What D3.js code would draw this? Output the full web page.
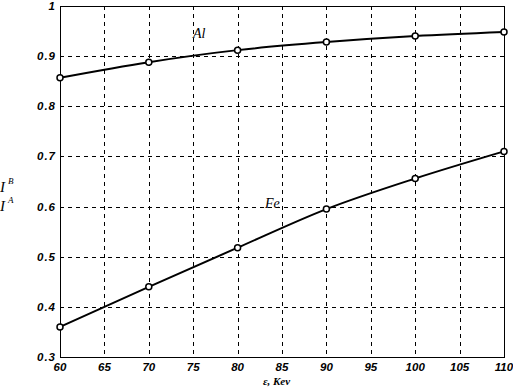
<!DOCTYPE html>
<html><head><meta charset="utf-8">
<script src="https://cdn.jsdelivr.net/npm/d3@7"></script>
<style>body{margin:0;background:#fff}svg{display:block}</style>
</head><body>
<script>
const energies = [60, 70, 80, 90, 100, 110];
const alValues = [0.857, 0.888, 0.912, 0.928, 0.940, 0.948];
const feValues = [0.360, 0.440, 0.518, 0.595, 0.656, 0.710];
const xTicks = [60, 65, 70, 75, 80, 85, 90, 95, 100, 105, 110];
const yTicks = [0.3, 0.4, 0.5, 0.6, 0.7, 0.8, 0.9, 1];
const yTickLabels = ["0.3", "0.4", "0.5", "0.6", "0.7", "0.8", "0.9", "1"];

const W = 513, H = 392;
const m = {left: 60, right: 9, top: 6, bottom: 35};
const svg = d3.select("body").append("svg").attr("width", W).attr("height", H);
const x = d3.scaleLinear().domain([60, 110]).range([m.left, W - m.right]);
const y = d3.scaleLinear().domain([0.3, 1]).range([H - m.bottom, m.top]);

// grid
const g = svg.append("g");
g.selectAll(".vg").data(xTicks.slice(1, -1)).join("line")
  .attr("x1", d => Math.round(x(d)) + 0.5).attr("x2", d => Math.round(x(d)) + 0.5)
  .attr("y1", y(1)).attr("y2", y(0.3))
  .attr("stroke", "#000").attr("stroke-width", 1).attr("stroke-dasharray", "4,4");
g.selectAll(".hg").data(yTicks.slice(1, -1)).join("line")
  .attr("y1", d => Math.round(y(d)) + 0.5).attr("y2", d => Math.round(y(d)) + 0.5)
  .attr("x1", x(60)).attr("x2", x(110))
  .attr("stroke", "#000").attr("stroke-width", 1).attr("stroke-dasharray", "4,4");

// box
svg.append("rect").attr("x", Math.round(x(60)) + 0.5).attr("y", Math.round(y(1)) + 0.5)
  .attr("width", Math.round(x(110)) - Math.round(x(60))).attr("height", Math.round(y(0.3)) - Math.round(y(1)))
  .attr("fill", "none").attr("stroke", "#000").attr("stroke-width", 1);

// axes tick labels
const tickFont = "'Liberation Sans', Arial, sans-serif";
svg.append("g").selectAll("text").data(xTicks).join("text")
  .attr("x", d => x(d)).attr("y", y(0.3) + 14)
  .attr("text-anchor", "middle").attr("font-family", tickFont)
  .attr("font-size", 11.5).attr("font-weight", "bold").attr("font-style", "italic")
  .text(d => d);
svg.append("g").selectAll("text").data(yTicks).join("text")
  .attr("x", x(60) - 4).attr("y", d => y(d) + 4)
  .attr("text-anchor", "end").attr("font-family", tickFont)
  .attr("font-size", 11.5).attr("font-weight", "bold").attr("font-style", "italic")
  .attr("letter-spacing", 1)
  .text((d, i) => yTickLabels[i]);

// lines
const line = d3.line().x(d => x(d[0])).y(d => y(d[1])).curve(d3.curveMonotoneX);
[alValues, feValues].forEach(vals => {
  const pts = energies.map((e, i) => [e, vals[i]]);
  svg.append("path").datum(pts).attr("d", line)
    .attr("fill", "none").attr("stroke", "#000").attr("stroke-width", 2);
  svg.append("g").selectAll("circle").data(pts).join("circle")
    .attr("cx", d => x(d[0])).attr("cy", d => y(d[1])).attr("r", 3)
    .attr("fill", "#fff").attr("stroke", "#000").attr("stroke-width", 1.5);
});

// labels
const serif = "'Liberation Serif', 'Times New Roman', serif";
svg.append("text").attr("x", 193).attr("y", 38).attr("font-family", serif)
  .attr("font-size", 14).attr("font-style", "italic").text("Al");
svg.append("text").attr("x", 265).attr("y", 208).attr("font-family", serif)
  .attr("font-size", 14).attr("font-style", "italic").text("Fe");

svg.append("text").attr("x", 263).attr("y", 385).attr("font-family", serif)
  .attr("font-size", 11).attr("font-weight", "bold").attr("font-style", "italic").text("ε, Kev");

const yl = svg.append("g").attr("font-family", serif).attr("font-style", "italic");
yl.append("text").attr("x", 0).attr("y", 192).attr("font-size", 15).text("I");
yl.append("text").attr("x", 8).attr("y", 184).attr("font-size", 9).text("B");
yl.append("text").attr("x", 0).attr("y", 211).attr("font-size", 15).text("I");
yl.append("text").attr("x", 8).attr("y", 203).attr("font-size", 9).text("A");
</script>
</body></html>
